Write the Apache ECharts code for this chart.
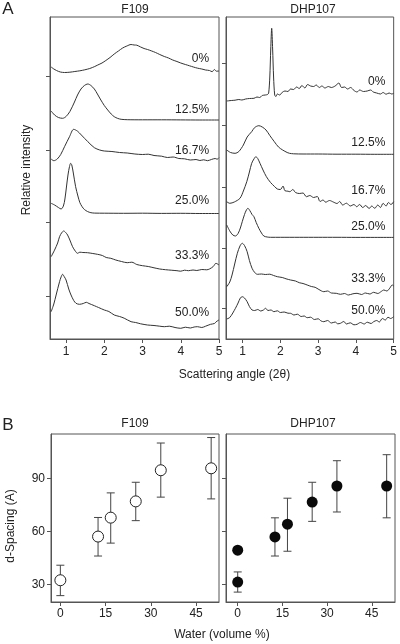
<!DOCTYPE html>
<html><head><meta charset="utf-8">
<script src="https://cdn.jsdelivr.net/npm/echarts@6/dist/echarts.min.js"></script>
<style>html,body{margin:0;padding:0;background:#fff}#c{width:400px;height:644px}</style>
</head><body><div id="c"></div>
<script>
// ---- Panel A : scattering curves (x = 2θ, y = stacked relative intensity) ----
const concLabels = ['0%', '12.5%', '16.7%', '25.0%', '33.3%', '50.0%'];
const angleTicks = [1, 2, 3, 4, 5];

const f109_0 = [[0.61,272],[0.68,270],[0.75,268.5],[0.85,267],[0.96,266.5],[1.1,266.8],[1.23,267.5],[1.36,268.2],[1.49,269.2],[1.62,270.5],[1.75,272.5],[1.83,274],[1.94,276],[2.04,278.5],[2.15,281.5],[2.26,285],[2.37,288],[2.48,291],[2.59,293],[2.7,294.5],[2.78,294],[2.85,293.8],[2.95,292],[3.04,290.5],[3.13,289.5],[3.24,288],[3.34,286.5],[3.45,284.5],[3.57,282.5],[3.68,281],[3.79,279],[3.9,277.5],[4.0,276],[4.12,274.5],[4.23,273.2],[4.33,272],[4.44,270.8],[4.55,270],[4.65,269],[4.75,268.5],[4.82,267.3],[4.88,269.5],[4.93,267.8],[5.0,268]];
const f109_125 = [[0.61,228],[0.7,224],[0.8,221.5],[0.91,220.7],[1.0,222.5],[1.1,227.5],[1.22,237],[1.3,244],[1.39,250],[1.48,253.5],[1.57,255],[1.65,253.5],[1.74,250],[1.82,245],[1.91,239],[2.0,233.5],[2.09,229],[2.18,225],[2.26,222.3],[2.35,220.6],[2.44,219.7],[2.6,219.3],[3.0,219.2],[3.5,219.2],[4.0,219.1],[4.5,219],[5.0,219]];
const f109_167 = [[0.61,180],[0.68,178.3],[0.77,180],[0.86,184.5],[0.96,192.3],[1.09,202.3],[1.2,209.7],[1.3,207.8],[1.4,204],[1.57,197.3],[1.74,191.3],[1.88,189],[2.0,188],[2.2,187.5],[2.4,186.5],[2.6,186],[2.8,185],[3.0,184.5],[3.15,184.8],[3.3,183.5],[3.5,182.8],[3.65,181.5],[3.8,182],[3.95,180.5],[4.1,180.2],[4.25,179],[4.4,179.5],[4.5,178.5],[4.6,179.2],[4.7,178.3],[4.8,179.5],[4.9,180.5],[4.95,179.8],[5.0,181.3]];
const f109_250 = [[0.61,135.7],[0.7,134],[0.8,131.5],[0.87,130],[0.93,133],[0.97,140],[1.01,152],[1.05,164],[1.09,172.5],[1.12,175.7],[1.15,174],[1.19,166],[1.25,152.3],[1.31,143],[1.36,136.5],[1.42,132.3],[1.48,129.5],[1.56,127.5],[1.65,126.3],[1.75,125.9],[2.0,125.8],[2.5,125.7],[3.0,125.8],[3.5,125.6],[4.0,125.7],[4.5,125.5],[5.0,125.5]];
const f109_333 = [[0.61,82.3],[0.7,89],[0.78,96],[0.83,102.3],[0.89,106.5],[0.94,108],[0.99,106.5],[1.04,104],[1.11,98],[1.17,92.3],[1.24,88],[1.3,85.7],[1.36,86.8],[1.44,86.5],[1.56,86.3],[1.7,85.5],[1.82,84.7],[1.95,83.5],[2.05,81.5],[2.17,80.7],[2.3,79],[2.45,77.5],[2.6,76.3],[2.72,76.8],[2.85,74.5],[3.0,73.3],[3.15,72.5],[3.3,71.2],[3.45,70],[3.6,69.3],[3.75,68.8],[3.9,68.3],[4.0,67.8],[4.1,68.8],[4.2,68.3],[4.32,69],[4.42,68.5],[4.55,69.5],[4.68,69.2],[4.75,70],[4.85,72.5],[4.92,75.7],[5.0,74]];
const f109_500 = [[0.61,27.3],[0.68,35],[0.74,44],[0.83,57.3],[0.87,62],[0.91,64.7],[0.95,62.5],[1.0,59],[1.07,50],[1.13,44],[1.2,38.5],[1.26,35.7],[1.35,34.7],[1.45,35.5],[1.53,36.7],[1.6,35.5],[1.74,33.3],[1.85,31.5],[2.0,29],[2.12,27.5],[2.26,24],[2.4,22.5],[2.52,20.8],[2.7,17.3],[2.82,16.5],[2.95,15.2],[3.13,14],[3.3,13.5],[3.45,12.8],[3.57,12.3],[3.7,12.8],[3.85,11.5],[4.0,10.7],[4.12,11.8],[4.25,11],[4.35,12],[4.44,12.3],[4.55,11.5],[4.65,12.8],[4.78,14.7],[4.88,15.5],[4.95,18],[5.0,19]];

const dhp_0 = [[0.58,238],[0.7,238.5],[0.8,238.8],[0.9,239.5],[0.98,239],[1.08,240],[1.18,240.5],[1.3,240.7],[1.38,242],[1.45,241.5],[1.52,243.5],[1.6,244],[1.66,244.5],[1.69,246],[1.72,262],[1.745,290],[1.77,310.7],[1.795,290],[1.82,262],[1.85,244],[1.88,242.5],[1.92,245],[1.98,244],[2.05,246.7],[2.12,248],[2.2,247.5],[2.27,250],[2.35,249.5],[2.43,252],[2.5,250.5],[2.57,253.5],[2.65,251],[2.72,254.5],[2.8,253],[2.88,252.5],[2.95,254],[3.03,251.5],[3.1,253],[3.18,251],[3.27,252.5],[3.35,251.5],[3.45,253],[3.55,256],[3.62,251.5],[3.7,252],[3.78,250],[3.86,251.5],[3.95,248.5],[4.03,247],[4.1,249],[4.2,247.5],[4.3,248],[4.39,249],[4.46,247],[4.55,246],[4.65,245],[4.72,246.5],[4.8,244.8],[4.88,246],[4.95,245],[5.0,245.7]];
const dhp_125 = [[0.58,189],[0.68,186.5],[0.8,185.7],[0.9,187.5],[1.02,194],[1.12,202],[1.24,207.3],[1.32,211.5],[1.43,213.3],[1.52,212],[1.62,209],[1.72,203.5],[1.84,197.3],[1.95,192],[2.06,189],[2.18,186.5],[2.24,185.7],[2.35,185.2],[2.6,185],[3.0,185],[3.5,184.8],[4.0,184.8],[4.5,184.7],[5.0,184.7]];
const dhp_167 = [[0.58,137.3],[0.66,135.7],[0.78,137],[0.93,140.7],[1.02,148],[1.11,157.3],[1.18,167],[1.24,175.7],[1.3,180],[1.35,182.3],[1.4,180.5],[1.46,175.7],[1.54,169],[1.63,162.3],[1.74,156.5],[1.85,152.3],[1.92,150],[2.0,149.5],[2.07,153],[2.12,148.3],[2.2,147.8],[2.25,147.3],[2.33,149.5],[2.4,146.5],[2.5,145.5],[2.6,146],[2.69,142.3],[2.78,143.5],[2.88,141.5],[2.98,142.5],[3.05,137.5],[3.13,139],[3.2,136.8],[3.3,138.5],[3.4,137],[3.5,135.5],[3.57,137.5],[3.65,134],[3.75,135.8],[3.85,133],[3.95,134.5],[4.02,132.3],[4.1,134.5],[4.18,131.5],[4.26,133.5],[4.35,130.5],[4.42,133],[4.5,130.7],[4.58,134],[4.65,131.5],[4.72,135.7],[4.8,133],[4.86,136.5],[4.93,134.5],[5.0,137.3]];
const dhp_250 = [[0.58,114],[0.66,108],[0.74,104],[0.81,103],[0.88,105.5],[0.94,111],[0.99,117.3],[1.05,124.5],[1.1,129],[1.14,130.7],[1.19,128.5],[1.25,124.5],[1.3,122.3],[1.36,116.5],[1.43,110.7],[1.5,106],[1.56,103],[1.65,102],[1.74,101.7],[2.0,101.7],[2.5,101.7],[3.0,101.7],[3.5,101.7],[4.0,101.6],[4.5,101.6],[5.0,101.6]];
const dhp_333 = [[0.58,52.3],[0.66,57],[0.72,64],[0.79,75],[0.86,85.7],[0.93,93],[0.99,95.7],[1.05,93.5],[1.12,87.3],[1.18,78.5],[1.25,70.7],[1.32,66.5],[1.39,64.7],[1.5,65],[1.6,64.5],[1.72,64.8],[1.82,63.5],[1.92,62.3],[2.05,61.5],[2.15,60.2],[2.27,59],[2.4,58],[2.5,56.3],[2.6,55.5],[2.71,54],[2.82,52.5],[2.92,51.7],[3.02,49.5],[3.15,47.3],[3.25,48],[3.35,46],[3.48,45.7],[3.59,44.7],[3.7,45.5],[3.8,44],[3.92,45.2],[4.03,45.7],[4.15,44.5],[4.25,46],[4.37,45],[4.47,46.7],[4.58,45.5],[4.67,47.5],[4.74,49],[4.82,48],[4.9,51],[4.96,54],[5.0,53]];
const dhp_500 = [[0.58,20],[0.66,21.5],[0.74,26],[0.81,30.7],[0.88,36],[0.94,41],[0.99,42.3],[1.05,41],[1.12,37.3],[1.18,32.5],[1.25,29],[1.32,28.5],[1.4,29.5],[1.48,28],[1.55,29],[1.61,30.7],[1.67,28.5],[1.75,29],[1.83,27.3],[1.92,28.2],[2.0,26.5],[2.1,27],[2.2,25.8],[2.27,25.7],[2.36,24],[2.45,24.8],[2.55,22.5],[2.63,23],[2.71,21.3],[2.8,21.8],[2.9,19.5],[3.0,20.2],[3.08,18],[3.15,17.3],[3.25,18.5],[3.35,16],[3.45,17],[3.52,15.2],[3.59,15.7],[3.68,17.5],[3.75,15],[3.85,16.2],[3.95,14.2],[4.03,14.7],[4.12,16.5],[4.22,15],[4.3,16.8],[4.4,15.5],[4.47,17.3],[4.55,18.5],[4.62,17],[4.7,20.5],[4.78,19],[4.85,21.8],[4.92,20.5],[5.0,22.3]];

// ---- Panel B : d-spacing vs water ----
const waterTicks = [0, 15, 30, 45];
const spacingTicks = [30, 60, 90];
const waterF = [0, 12.5, 16.7, 25, 33.3, 50];
const spacingF = [32.3, 57, 67.7, 76.9, 94.5, 95.6];
const lowF = [23.6, 46, 53.3, 66, 79.3, 78.3];
const highF = [40.8, 67.8, 81.7, 87.7, 109.9, 113];
const waterD = [0, 0, 12.5, 16.7, 25, 33.3, 50];
const spacingD = [31.3, 49.3, 56.8, 64, 76.5, 85.6, 85.6];
const lowD = [25.6, null, 46, 48.7, 65.6, 70.9, 67.6];
const highD = [37, null, 67.6, 78.7, 87.7, 99.9, 103.3];

// ---- layout (not data) ----
const curvesF = [f109_0, f109_125, f109_167, f109_250, f109_333, f109_500];
const curvesD = [dhp_0, dhp_125, dhp_167, dhp_250, dhp_333, dhp_500];
const labelYF = [280.5, 229.3, 188.7, 138.7, 83.3, 26];
const labelYD = [257.3, 196, 148, 112, 60.3, 28.7];
const ticksAF = [43, 117, 189, 263];
const ticksAD = [31, 91, 152, 214, 276];

const FONT = '"Liberation Sans", Arial, Helvetica, sans-serif';
const AX = '#555', TXT = '#222', LINE = '#333';

function gridBox(l, t, w, h) {
  return { left: l, top: t, width: w, height: h, show: true, borderColor: AX, borderWidth: 1, containLabel: false };
}
function xAx(gi, min, max, ticks, margin) {
  return { type: 'value', gridIndex: gi, min: min, max: max,
    axisLine: { show: true, onZero: false, lineStyle: { color: AX, width: 1 } },
    axisTick: { show: true, inside: false, length: 4, customValues: ticks, lineStyle: { color: AX } },
    axisLabel: { show: true, customValues: ticks, fontSize: 12, color: TXT, fontFamily: FONT, margin: margin },
    splitLine: { show: false } };
}
function yAx(gi, min, max, ticks, showLabel) {
  return { type: 'value', gridIndex: gi, min: min, max: max,
    axisLine: { show: true, onZero: false, lineStyle: { color: AX, width: 1 } },
    axisTick: { show: true, inside: false, length: 4, customValues: ticks, lineStyle: { color: AX } },
    axisLabel: { show: showLabel, customValues: ticks, fontSize: 12, color: TXT, fontFamily: FONT, margin: 6 },
    splitLine: { show: false } };
}

const series = [];
function addCurves(curves, labelsY, labelX, axisIdx) {
  curves.forEach(function (c, i) {
    series.push({
      type: 'line', xAxisIndex: axisIdx, yAxisIndex: axisIdx, data: c,
      showSymbol: false, symbol: 'none', smooth: 0.3, clip: true,
      lineStyle: { color: LINE, width: 1 }, silent: true,
      markPoint: {
        symbol: 'circle', symbolSize: 0, silent: true,
        label: { show: true, position: 'left', distance: 0, fontSize: 12, color: TXT, fontFamily: FONT, formatter: concLabels[i] },
        data: [{ coord: [labelX, labelsY[i]], value: concLabels[i] }]
      }
    });
  });
}
addCurves(curvesF, labelYF, 4.74, 0);
addCurves(curvesD, labelYD, 4.78, 1);

function errData(xs, lo, hi) {
  const out = [];
  xs.forEach(function (x, i) { if (lo[i] != null) out.push([x, lo[i], hi[i]]); });
  return out;
}
function errSeries(idx, data) {
  return {
    type: 'custom', xAxisIndex: idx, yAxisIndex: idx, data: data, silent: true, z: 2,
    renderItem: function (params, api) {
      const x = api.value(0);
      const p1 = api.coord([x, api.value(1)]);
      const p2 = api.coord([x, api.value(2)]);
      const cw = 4;
      const st = { stroke: '#444', lineWidth: 1 };
      return { type: 'group', children: [
        { type: 'line', shape: { x1: p1[0], y1: p1[1], x2: p2[0], y2: p2[1] }, style: st },
        { type: 'line', shape: { x1: p1[0] - cw, y1: p1[1], x2: p1[0] + cw, y2: p1[1] }, style: st },
        { type: 'line', shape: { x1: p2[0] - cw, y1: p2[1], x2: p2[0] + cw, y2: p2[1] }, style: st }
      ] };
    }
  };
}
series.push(errSeries(2, errData(waterF, lowF, highF)));
series.push(errSeries(3, errData(waterD, lowD, highD)));
series.push({ type: 'scatter', xAxisIndex: 2, yAxisIndex: 2, z: 5, symbol: 'circle', symbolSize: 11,
  data: waterF.map(function (x, i) { return [x, spacingF[i]]; }),
  itemStyle: { color: '#fff', borderColor: '#222', borderWidth: 1, opacity: 1 } });
series.push({ type: 'scatter', xAxisIndex: 3, yAxisIndex: 3, z: 5, symbol: 'circle', symbolSize: 11,
  data: waterD.map(function (x, i) { return [x, spacingD[i]]; }),
  itemStyle: { color: '#0a0a0a', borderColor: '#0a0a0a', borderWidth: 0, opacity: 1 } });

function txt(text, x, y, size, rot) {
  return { type: 'text', x: x, y: y, rotation: rot || 0, silent: true,
    style: { text: text, fontSize: size, fontFamily: FONT, fill: TXT, align: 'center', verticalAlign: 'middle' } };
}

const option = {
  animation: false,
  backgroundColor: '#fff',
  grid: [gridBox(50, 17, 169, 322), gridBox(226, 17, 169, 322), gridBox(51, 434, 168, 168), gridBox(226, 434, 169, 168)],
  xAxis: [xAx(0, 0.58, 5, angleTicks, 7), xAx(1, 0.56, 5, angleTicks, 7), xAx(2, -3.1, 52.6, waterTicks, 6), xAx(3, -3.93, 52.8, waterTicks, 6)],
  yAxis: [yAx(0, 0, 322, ticksAF, false), yAx(1, 0, 322, ticksAD, false), yAx(2, 20, 115, spacingTicks, true), yAx(3, 20, 115, spacingTicks, false)],
  series: series,
  graphic: [
    txt('A', 8, 9, 17), txt('B', 8, 425, 17),
    txt('F109', 135, 9.5, 12), txt('DHP107', 313, 9.5, 12),
    txt('F109', 135, 424, 12), txt('DHP107', 313, 424, 12),
    txt('Relative intensity', 27, 170, 12, Math.PI / 2),
    txt('Scattering angle (2θ)', 234.5, 375, 12),
    txt('d-Spacing (A)', 11, 526, 12, Math.PI / 2),
    txt('Water (volume %)', 222, 635, 12)
  ]
};
const chart = echarts.init(document.getElementById('c'), null, { renderer: 'canvas' });
chart.setOption(option);
</script></body></html>
